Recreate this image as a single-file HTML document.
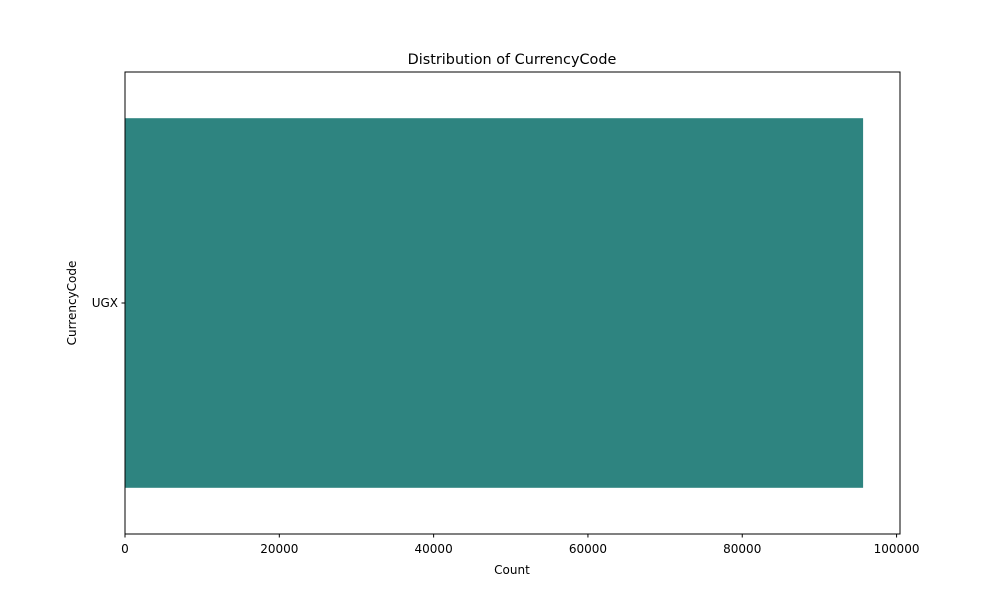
<!DOCTYPE html>
<html><head><meta charset="utf-8"><style>
body{margin:0;background:#fff;}
svg text{font-family:"DejaVu Sans","Liberation Sans",sans-serif;fill:#000;}
</style></head><body>
<svg id="chart" width="1000" height="600" xmlns="http://www.w3.org/2000/svg">
<rect width="1000" height="600" fill="#fff"/>
<text x="512" y="64" font-size="14.4" text-anchor="middle">Distribution of CurrencyCode</text>
<g id="plot"></g>
<rect x="125" y="72" width="775" height="462" fill="none" stroke="#000" stroke-width="1"/>
<text x="512" y="574" font-size="12" text-anchor="middle">Count</text>
<text x="76" y="303" font-size="12" text-anchor="middle" transform="rotate(-90 76 303)">CurrencyCode</text>
</svg>
<script>
const categories = ["UGX"];
const counts = [95662];
const xTicks = [0, 20000, 40000, 60000, 80000, 100000];

const L = 125, R = 900, T = 72, B = 534;
const xMax = Math.max(...counts) * 1.05;
const xs = v => L + (v / xMax) * (R - L);
const band = (B - T) / categories.length;
const barH = band * 0.8;
const ns = "http://www.w3.org/2000/svg";
const g = document.getElementById("plot");
function mk(tag, attrs){const e=document.createElementNS(ns,tag);for(const k in attrs)e.setAttribute(k,attrs[k]);return e;}

categories.forEach((c, i) => {
  const cy = T + band * (i + 0.5);
  const r = mk("rect", {x: xs(0), y: cy - barH/2, width: xs(counts[i]) - xs(0), height: barH, fill: "#2e8480"});
  
  
  g.appendChild(r);
  const t = mk("line", {x1: L - 3.5, x2: L, y1: cy, y2: cy, stroke: "#000"});
  
  
  g.appendChild(t);
  const lb = mk("text", {x: L - 7, y: cy + 4, "font-size": 12, "text-anchor": "end"});
  lb.textContent = c;
  
  
  g.appendChild(lb);
});

xTicks.forEach(v => {
  const x = xs(v);
  const t = mk("line", {x1: x, x2: x, y1: B, y2: B + 3.5, stroke: "#000"});
  
  
  g.appendChild(t);
  const lb = mk("text", {x: x, y: B + 19, "font-size": 12, "text-anchor": "middle"});
  lb.textContent = v;
  
  
  g.appendChild(lb);
});
</script>
</body></html>
